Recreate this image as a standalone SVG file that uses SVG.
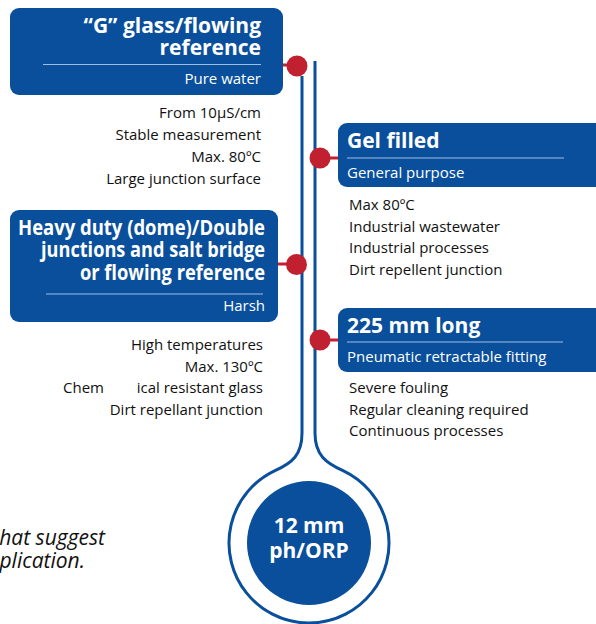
<svg xmlns="http://www.w3.org/2000/svg" width="596" height="624" viewBox="0 0 596 624">
<style>
.box{fill:#0a4f9c}
.rule{stroke:#9fbde3;stroke-width:1.2}
.title{font-family:"Open Sans","Noto Sans",sans-serif;font-weight:700;fill:#fff;font-size:21px}
.sub{font-family:"Open Sans","Noto Sans",sans-serif;fill:#fff;font-size:15px}
.item{font-family:"Open Sans","Noto Sans",sans-serif;fill:#111;font-size:15px}
.dot{fill:#c0202f}
.link{stroke:#c0202f;stroke-width:3}
.stem{fill:none;stroke:#0a4f9c}
.end{text-anchor:end}
</style>
<rect width="596" height="624" fill="#fff"/>
<g id="connectors">
<path class="stem" stroke-width="3" d="M302,76 V433 C302,455 292,463 275,470.6 A80,80 0 1 0 343,470.6 C326,463 315,455 315,433 V61"/>
<line class="link" x1="280" y1="65" x2="297" y2="65"/>
<line class="link" x1="320" y1="158" x2="342" y2="158"/>
<line class="link" x1="275" y1="264" x2="297" y2="264"/>
<line class="link" x1="320" y1="340" x2="342" y2="340"/>
</g>
<g id="node-g-glass">
<rect class="box" x="10" y="8" width="273" height="87" rx="9"/>
<text class="title end" x="261" y="33">“G” glass/flowing</text>
<text class="title end" x="261" y="55">reference</text>
<line class="rule" x1="43" y1="64.5" x2="261" y2="64.5"/>
<text class="sub end" x="261" y="84">Pure water</text>
<circle class="dot" cx="297" cy="66" r="10.5"/>
<g class="item end">
<text x="261" y="118">From 10µS/cm</text>
<text x="261" y="140">Stable measurement</text>
<text x="261" y="162">Max. 80ºC</text>
<text x="261" y="184">Large junction surface</text>
</g>
</g>
<g id="node-gel">
<rect class="box" x="338" y="123" width="275" height="64" rx="9"/>
<text class="title" x="347" y="148">Gel filled</text>
<line class="rule" x1="347" y1="158" x2="564" y2="158"/>
<text class="sub" x="347" y="178">General purpose</text>
<circle class="dot" cx="320" cy="158" r="10.5"/>
<g class="item">
<text x="349" y="210">Max 80ºC</text>
<text x="349" y="232">Industrial wastewater</text>
<text x="349" y="253">Industrial processes</text>
<text x="349" y="275">Dirt repellent junction</text>
</g>
</g>
<g id="node-heavy">
<rect class="box" x="10" y="210" width="268" height="112" rx="9"/>
<text class="title end" x="265" y="235" textLength="247" lengthAdjust="spacingAndGlyphs">Heavy duty (dome)/Double</text>
<text class="title end" x="265" y="257" textLength="224" lengthAdjust="spacingAndGlyphs">junctions and salt bridge</text>
<text class="title end" x="265" y="280" textLength="185" lengthAdjust="spacingAndGlyphs">or flowing reference</text>
<line class="rule" x1="46" y1="294" x2="263" y2="294"/>
<text class="sub end" x="265" y="311">Harsh</text>
<circle class="dot" cx="296.5" cy="264.5" r="10.5"/>
<g class="item">
<text class="end" x="263" y="350">High temperatures</text>
<text class="end" x="263" y="372">Max. 130ºC</text>
<text x="63" y="393">Chem</text>
<text class="end" x="263" y="393">ical resistant glass</text>
<text class="end" x="263" y="415">Dirt repellant junction</text>
</g>
</g>
<g id="node-225">
<rect class="box" x="338" y="308" width="275" height="64" rx="9"/>
<text class="title" x="347" y="333">225 mm long</text>
<line class="rule" x1="347" y1="342" x2="563" y2="342"/>
<text class="sub" x="347" y="362">Pneumatic retractable fitting</text>
<circle class="dot" cx="320" cy="340" r="10.5"/>
<g class="item">
<text x="349" y="393">Severe fouling</text>
<text x="349" y="415">Regular cleaning required</text>
<text x="349" y="436">Continuous processes</text>
</g>
</g>
<g id="node-bulb">
<circle class="box" cx="309" cy="543" r="62"/>
<text class="title" x="309" y="533" text-anchor="middle">12 mm</text>
<text class="title" x="309" y="558" text-anchor="middle">ph/ORP</text>
</g>
<g id="caption" font-family="'Open Sans','Noto Sans',sans-serif" font-style="italic" font-size="21" fill="#111" text-anchor="end">
<text x="105" y="545">hat suggest</text>
<text x="85" y="568">plication.</text>
</g>
</svg>
